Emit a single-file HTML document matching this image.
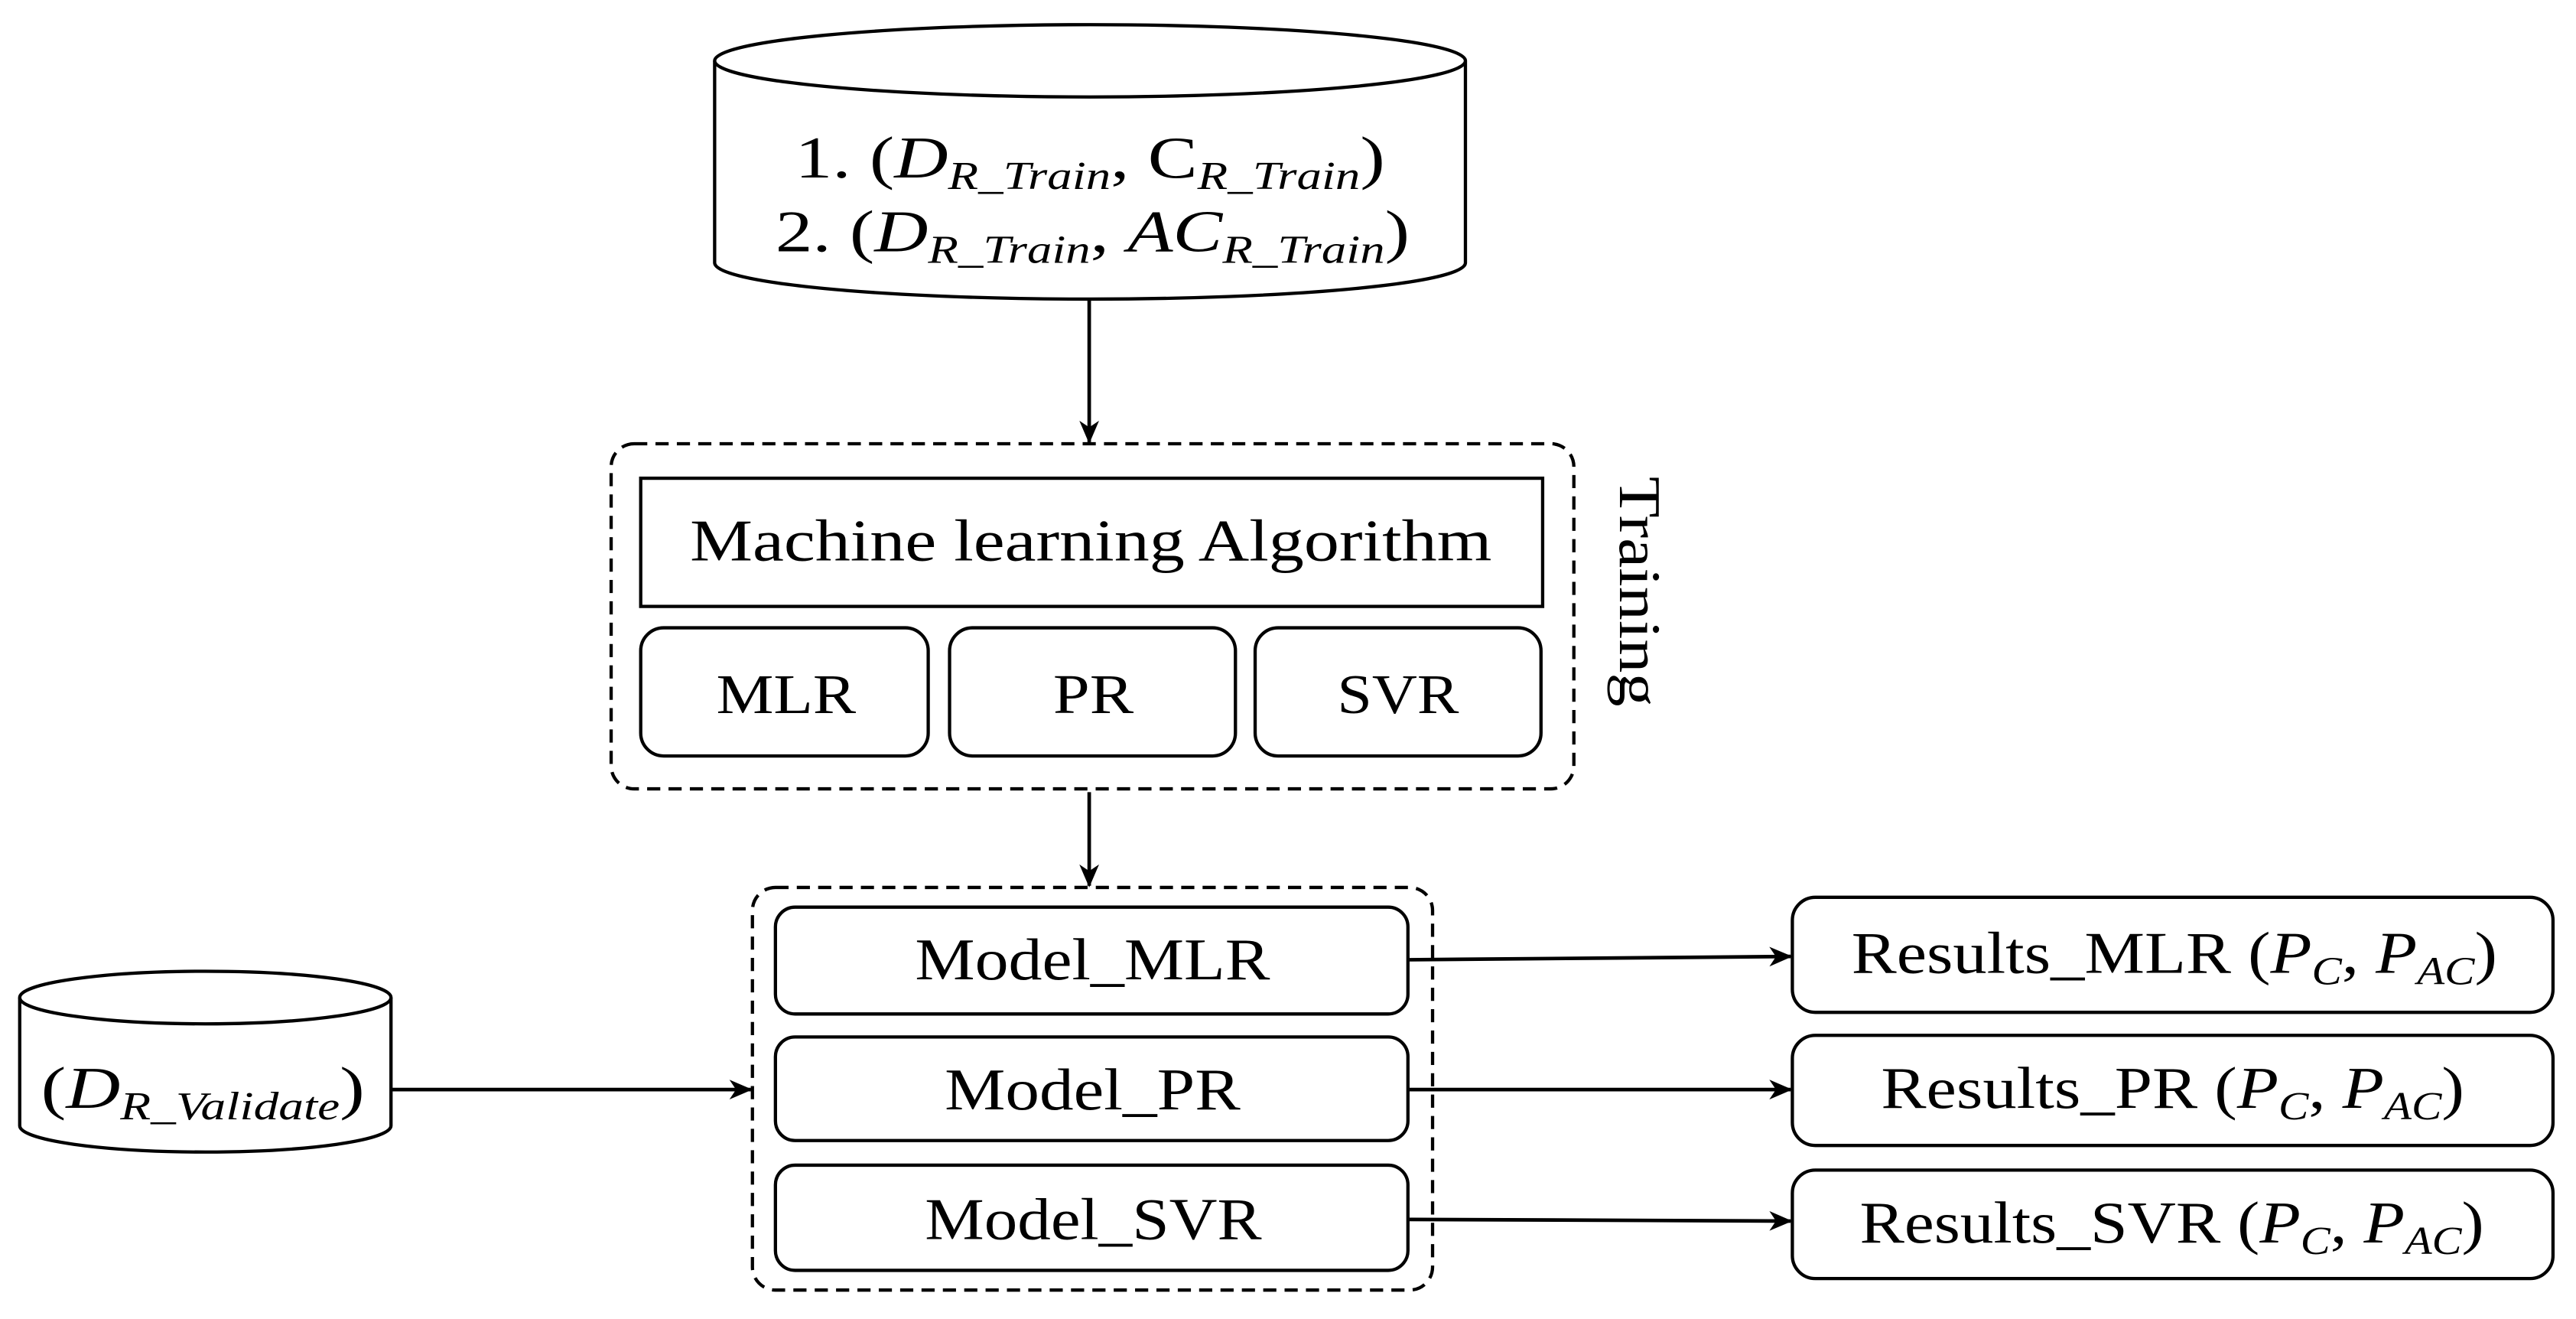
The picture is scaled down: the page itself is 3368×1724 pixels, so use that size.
<!DOCTYPE html>
<html><head><meta charset="utf-8"><style>
html,body{margin:0;padding:0;background:#fff;}
svg{display:block;}
text{font-family:"Liberation Serif",serif;fill:#000;}
</style></head><body>
<svg width="3368" height="1724" viewBox="0 0 1568 802.6" preserveAspectRatio="none" xmlns="http://www.w3.org/2000/svg">
<defs>
<marker id="a" markerWidth="14" markerHeight="12" refX="13" refY="6" orient="auto" markerUnits="userSpaceOnUse">
<path d="M0,0 L14,6 L0,12 L4,6 Z" fill="#000"/>
</marker>
</defs>
<g fill="none" stroke="#000" stroke-width="2">
<path d="M435,37 L435,160 A228.5,22 0 0 0 892,160 L892,37" fill="#fff"/>
<ellipse cx="663.5" cy="37" rx="228.5" ry="22" fill="#fff"/>
<path d="M12,607 L12,685 A113,16 0 0 0 238,685 L238,607" fill="#fff"/>
<ellipse cx="125" cy="607" rx="113" ry="16" fill="#fff"/>
<rect x="372" y="270" width="586" height="210" rx="14" stroke-dasharray="8,5"/>
<rect x="390" y="291" width="549" height="78"/>
<rect x="390" y="382" width="175" height="78" rx="14"/>
<rect x="578" y="382" width="174" height="78" rx="14"/>
<rect x="764" y="382" width="174" height="78" rx="14"/>
<rect x="458" y="540" width="414" height="245" rx="14" stroke-dasharray="8,5"/>
<rect x="472" y="552" width="385" height="65" rx="12"/>
<rect x="472" y="631" width="385" height="63" rx="12"/>
<rect x="472" y="709" width="385" height="64" rx="12"/>
<rect x="1091" y="546" width="463" height="70" rx="14"/>
<rect x="1091" y="630" width="463" height="67" rx="14"/>
<rect x="1091" y="712" width="463" height="66" rx="14"/>
<g stroke-width="2.2">
<line x1="663" y1="182" x2="663" y2="269" marker-end="url(#a)"/>
<line x1="663" y1="482" x2="663" y2="539" marker-end="url(#a)"/>
<line x1="238" y1="663" x2="457" y2="663" marker-end="url(#a)"/>
<line x1="858" y1="584" x2="1090" y2="582" marker-end="url(#a)"/>
<line x1="858" y1="663" x2="1090" y2="663" marker-end="url(#a)"/>
<line x1="858" y1="742" x2="1090" y2="743" marker-end="url(#a)"/>
</g>
</g>
<g font-size="36">
<text x="484" y="108" textLength="359" lengthAdjust="spacingAndGlyphs">1. (<tspan font-style="italic">D</tspan><tspan font-style="italic" font-size="24" dy="7">R_Train</tspan><tspan dy="-7">, C</tspan><tspan font-style="italic" font-size="24" dy="7">R_Train</tspan><tspan dy="-7">)</tspan></text>
<text x="472" y="153" textLength="386" lengthAdjust="spacingAndGlyphs">2. (<tspan font-style="italic">D</tspan><tspan font-style="italic" font-size="24" dy="7">R_Train</tspan><tspan dy="-7">, </tspan><tspan font-style="italic">AC</tspan><tspan font-style="italic" font-size="24" dy="7">R_Train</tspan><tspan dy="-7">)</tspan></text>
<text x="420" y="341" textLength="488" lengthAdjust="spacingAndGlyphs">Machine learning Algorithm</text>
<text x="436" y="434" font-size="34" textLength="85" lengthAdjust="spacingAndGlyphs">MLR</text>
<text x="641" y="434" font-size="34" textLength="49" lengthAdjust="spacingAndGlyphs">PR</text>
<text x="814" y="434" font-size="34" textLength="74" lengthAdjust="spacingAndGlyphs">SVR</text>
<text x="557" y="596" textLength="216" lengthAdjust="spacingAndGlyphs">Model_MLR</text>
<text x="575" y="675" textLength="180" lengthAdjust="spacingAndGlyphs">Model_PR</text>
<text x="563" y="754" textLength="205" lengthAdjust="spacingAndGlyphs">Model_SVR</text>
<text x="1127" y="592" textLength="393" lengthAdjust="spacingAndGlyphs">Results_MLR (<tspan font-style="italic">P</tspan><tspan font-style="italic" font-size="24" dy="7">C</tspan><tspan dy="-7">, </tspan><tspan font-style="italic">P</tspan><tspan font-style="italic" font-size="24" dy="7">AC</tspan><tspan dy="-7">)</tspan></text>
<text x="1145" y="674" textLength="355" lengthAdjust="spacingAndGlyphs">Results_PR (<tspan font-style="italic">P</tspan><tspan font-style="italic" font-size="24" dy="7">C</tspan><tspan dy="-7">, </tspan><tspan font-style="italic">P</tspan><tspan font-style="italic" font-size="24" dy="7">AC</tspan><tspan dy="-7">)</tspan></text>
<text x="1132" y="756" textLength="380" lengthAdjust="spacingAndGlyphs">Results_SVR (<tspan font-style="italic">P</tspan><tspan font-style="italic" font-size="24" dy="7">C</tspan><tspan dy="-7">, </tspan><tspan font-style="italic">P</tspan><tspan font-style="italic" font-size="24" dy="7">AC</tspan><tspan dy="-7">)</tspan></text>
<text x="25" y="674" textLength="197" lengthAdjust="spacingAndGlyphs">(<tspan font-style="italic">D</tspan><tspan font-style="italic" font-size="24" dy="7">R_Validate</tspan><tspan dy="-7">)</tspan></text>
<text x="0" y="0" transform="translate(986,290) rotate(90)" textLength="140" lengthAdjust="spacingAndGlyphs">Training</text>
</g>
</svg>
</body></html>
